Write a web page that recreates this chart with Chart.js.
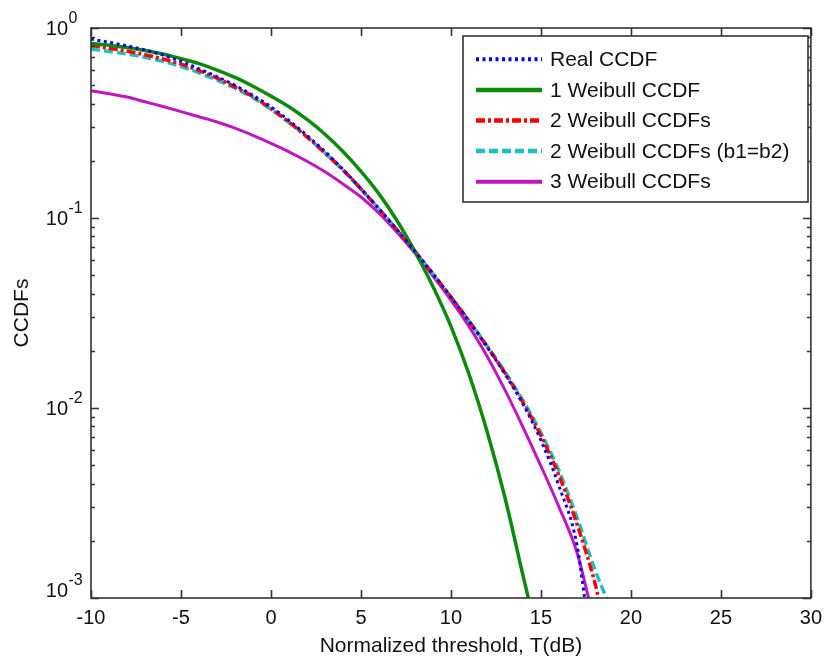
<!DOCTYPE html>
<html>
<head>
<meta charset="utf-8">
<script src="https://cdn.jsdelivr.net/npm/chart.js@4/dist/chart.umd.min.js"></script>
<style>
  html, body { margin: 0; padding: 0; background: #fff; }
  #wrap { width: 830px; height: 662px; }
</style>
</head>
<body>
<div id="wrap"><canvas id="c" width="830" height="662"></canvas></div>
<script>
// ---- data ----
const thresholdDb = [-10,-9,-8,-7,-6,-5,-4,-3,-2,-1,0,1,2,3,4,5,6,7,8,9,10,11,12,13,14,15,16,17,18];

const realCCDF   = [0.875,0.841,0.805,0.767,0.721,0.668,0.610,0.555,0.499,0.442,0.385,0.326,0.272,0.224,0.180,0.1426,0.1117,0.0867,0.0667,0.0508,0.0384,0.0286,0.0210,0.0151,0.0105,0.00676,0.00389,0.00191,null];
const weibull1   = [0.83,0.811,0.789,0.762,0.73,0.69,0.649,0.601,0.55,0.494,0.438,0.385,0.33,0.276,0.224,0.176,0.134,0.097,0.0665,0.0436,0.0269,0.0151,0.00757,0.00338,0.00132,null,null,null,null];
const weibull2   = [0.809,0.783,0.755,0.723,0.687,0.646,0.597,0.545,0.490,0.435,0.376,0.320,0.267,0.220,0.1795,0.1422,0.1117,0.0867,0.0667,0.0508,0.0384,0.0287,0.0211,0.0153,0.0107,0.00716,0.00442,0.00245,0.0012];
const weibull2eq = [0.774,0.753,0.729,0.702,0.667,0.627,0.581,0.532,0.482,0.430,0.373,0.318,0.267,0.220,0.1786,0.1419,0.1117,0.0867,0.0667,0.0508,0.0384,0.0288,0.0213,0.0155,0.01096,0.00741,0.00468,0.00266,0.00141];
const weibull3   = [0.468,0.451,0.433,0.409,0.386,0.363,0.341,0.320,0.297,0.272,0.247,0.223,0.199,0.175,0.151,0.129,0.106,0.0841,0.0653,0.0495,0.037,0.0269,0.0188,0.01245,0.00794,0.00495,0.00302,0.00174,null];

// thresholds where each curve reaches the bottom of the axis (1e-3)
const endThreshold = [17.43, 14.3, 18.2, 18.64, 17.65];
const endValue = 0.001;

const seriesLabels = ['Real CCDF','1 Weibull CCDF','2 Weibull CCDFs','2 Weibull CCDFs (b1=b2)','3 Weibull CCDFs'];
const xTicks = [-10,-5,0,5,10,15,20,25,30];
const yTicks = [1,0.1,0.01,0.001];
const yTickExponents = ['0','-1','-2','-3'];

// ---- styles ----
const FONT = 'Liberation Sans, Arial, Helvetica, sans-serif';
const styles = [
  { color: '#0000ff', width: 3,   dash: [3,3.5] },
  { color: '#0b8a0b', width: 3.5, dash: [] },
  { color: '#ff0000', width: 3.5, dash: [9,3,3,3] },
  { color: '#1fbfbf', width: 3.5, dash: [9,4] },
  { color: '#bf17bf', width: 3,   dash: [] }
];
const allSeries = [realCCDF, weibull1, weibull2, weibull2eq, weibull3];

const datasets = allSeries.map((vals, i) => {
  const pts = [];
  thresholdDb.forEach((t, k) => { if (vals[k] !== null) pts.push({ x: t, y: vals[k] }); });
  pts.push({ x: endThreshold[i], y: endValue });
  return {
    label: seriesLabels[i],
    data: pts,
    borderColor: styles[i].color,
    backgroundColor: styles[i].color,
    borderWidth: styles[i].width,
    borderDash: styles[i].dash,
    pointRadius: 0,
    fill: false,
    cubicInterpolationMode: 'monotone',
    borderCapStyle: 'butt'
  };
});

const framePlugin = {
  id: 'frame',
  afterDatasetsDraw(chart) {
    const ctx = chart.ctx;
    const a = chart.chartArea;
    const xs = chart.scales.x, ys = chart.scales.y;
    ctx.save();
    ctx.strokeStyle = '#333';
    ctx.lineWidth = 1.6;
    ctx.setLineDash([]);
    ctx.strokeRect(a.left, a.top, a.right - a.left, a.bottom - a.top);
    ctx.beginPath();
    xTicks.forEach(v => {
      const px = Math.round(xs.getPixelForValue(v)) + 0.5;
      ctx.moveTo(px, a.bottom); ctx.lineTo(px, a.bottom - 8);
      ctx.moveTo(px, a.top); ctx.lineTo(px, a.top + 8);
    });
    for (let e = -3; e <= 0; e++) {
      const base = Math.pow(10, e);
      const py = Math.round(ys.getPixelForValue(base)) + 0.5;
      ctx.moveTo(a.left, py); ctx.lineTo(a.left + 8, py);
      ctx.moveTo(a.right, py); ctx.lineTo(a.right - 8, py);
      if (e < 0) {
        for (let m = 2; m <= 9; m++) {
          const y = Math.round(ys.getPixelForValue(m * base)) + 0.5;
          ctx.moveTo(a.left, y); ctx.lineTo(a.left + 4, y);
          ctx.moveTo(a.right, y); ctx.lineTo(a.right - 4, y);
        }
      }
    }
    ctx.stroke();

    // y tick labels 10^k
    ctx.fillStyle = '#111';
    yTicks.forEach((v, i) => {
      let py = ys.getPixelForValue(v);
      if (i === yTicks.length - 1) py -= 8;
      ctx.font = '20px ' + FONT;
      ctx.textAlign = 'right';
      ctx.textBaseline = 'middle';
      ctx.fillText('10', 68, py + 1);
      ctx.font = '16px ' + FONT;
      ctx.textAlign = 'left';
      ctx.fillText(yTickExponents[i], 68.5, py - 9);
    });

    // legend
    const lx = 463, ly = 36, lw = 345, lh = 166;
    ctx.fillStyle = '#fff';
    ctx.fillRect(lx, ly, lw, lh);
    ctx.strokeStyle = '#333';
    ctx.lineWidth = 1.6;
    ctx.strokeRect(lx, ly, lw, lh);
    chart.data.datasets.forEach((ds, i) => {
      const y = 59.3 + i * 30.6;
      ctx.beginPath();
      ctx.strokeStyle = ds.borderColor;
      ctx.lineWidth = ds.borderWidth + 1;
      ctx.setLineDash(ds.borderDash);
      ctx.lineCap = 'butt';
      ctx.moveTo(476, y); ctx.lineTo(542, y);
      ctx.stroke();
      ctx.setLineDash([]);
      ctx.fillStyle = '#111';
      ctx.font = '21px ' + FONT;
      ctx.textAlign = 'left';
      ctx.textBaseline = 'middle';
      ctx.fillText(ds.label, 550, y + 1);
    });
    ctx.restore();
  }
};

new Chart(document.getElementById('c'), {
  type: 'line',
  data: { datasets },
  options: {
    responsive: false,
    animation: false,
    layout: { padding: { top: 28, right: 14, left: 0, bottom: 0 } },
    scales: {
      x: {
        type: 'linear', min: -10, max: 30,
        afterBuildTicks: s => { s.ticks = xTicks.map(v => ({ value: v })); },
        ticks: { color: '#111', font: { family: FONT, size: 20 }, padding: 8, maxRotation: 0, autoSkip: false },
        grid: { display: false, drawTicks: false },
        border: { display: false },
        title: { display: true, text: 'Normalized threshold, T(dB)', color: '#111', font: { family: FONT, size: 21 }, padding: { top: 0, bottom: 3 } },
        afterFit: s => { s.height = 64; }
      },
      y: {
        type: 'logarithmic', min: 0.001, max: 1,
        afterBuildTicks: s => { s.ticks = yTicks.map(v => ({ value: v })); },
        ticks: { display: false },
        grid: { display: false, drawTicks: false },
        border: { display: false },
        title: { display: true, text: 'CCDFs', color: '#111', font: { family: FONT, size: 21 }, padding: { top: 10, bottom: 0 } },
        afterFit: s => { s.width = 91; }
      }
    },
    plugins: { legend: { display: false }, tooltip: { enabled: false } }
  },
  plugins: [framePlugin]
});
</script>
</body>
</html>
